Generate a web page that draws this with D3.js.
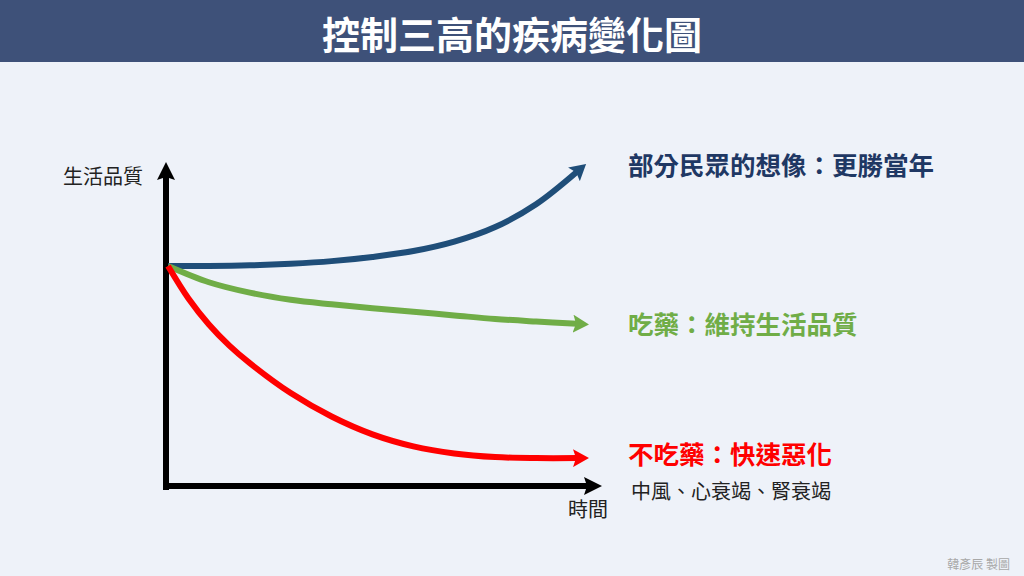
<!DOCTYPE html>
<html>
<head>
<meta charset="utf-8">
<script src="https://cdn.jsdelivr.net/npm/d3@7"></script>
<style>
  html, body { margin: 0; padding: 0; background: #eef2f9; }
  svg { display: block; font-family: 'Noto Sans CJK TC', 'Noto Sans', sans-serif; }
</style>
</head>
<body>
<div id="chartArea"></div>
<script>
// time steps (0 = now, 10 = far future)
const times = [0, 1, 2, 3, 4, 5, 6, 7, 8, 9, 10]
const timesFine = [0, 0.5, 1, 1.5, 2, 3, 4, 5, 6, 7, 8, 9, 10]

// quality of life, 0..100
const imagined = [68, 68, 68.2, 68.7, 69.5, 70.8, 72.6, 75.5, 80, 87, 97]
const withMeds = [68, 63, 59.8, 57.6, 56.2, 55, 53.9, 52.8, 51.7, 50.9, 50.2]
const noMeds = [68, 58, 50, 43.5, 38.1, 28.9, 21.7, 16.2, 12.5, 10.3, 9.2, 8.9, 8.9]

const seriesNames = ['部分民眾的想像：更勝當年', '吃藥：維持生活品質', '不吃藥：快速惡化']
const seriesColors = ['#1f4e79', '#70ad47', '#ff0000']
const labelColors = ['#1f3864', '#70ad47', '#ff0000']
const labelValues = [99.5, 50.5, 10.5]

const title = '控制三高的疾病變化圖'
const yLabel = '生活品質'
const xLabel = '時間'
const note = '中風、心衰竭、腎衰竭'
const credit = '韓彥辰 製圖'

const width = 1024
const height = 576

const svg = d3.select('#chartArea')
  .append('svg')
  .attr('width', width)
  .attr('height', height)

svg.append('rect')
  .attr('width', width)
  .attr('height', height)
  .attr('fill', '#eef2f9')

// header band
svg.append('rect')
  .attr('width', width)
  .attr('height', 62)
  .attr('fill', '#3e5179')

svg.append('text')
  .attr('x', width / 2)
  .attr('y', 32)
  .attr('text-anchor', 'middle')
  .attr('dominant-baseline', 'central')
  .attr('fill', '#fff')
  .attr('font-size', 38)
  .attr('font-weight', 'bold')
  .text(title)

const xScale = d3.scaleLinear().domain([0, 10]).range([168, 577])
const yScale = d3.scaleLinear().domain([0, 100]).range([487, 162])

// arrow markers
const defs = svg.append('defs')
const addMarker = (id, color, len, half, notch) => {
  defs.append('marker')
    .attr('id', id)
    .attr('markerUnits', 'userSpaceOnUse')
    .attr('viewBox', `${-len} ${-half} ${len + 2} ${half * 2}`)
    .attr('refX', -len + notch + 1)
    .attr('refY', 0)
    .attr('markerWidth', len + 2)
    .attr('markerHeight', half * 2)
    .attr('orient', 'auto')
    .append('path')
    .attr('d', `M0,0 L${-len},${-half} L${-len + notch},0 L${-len},${half} Z`)
    .attr('fill', color)
}
addMarker('ax', '#000', 18, 9, 3)
seriesColors.forEach((c, i) => addMarker('arr' + i, c, 16, 9, 3))

// axes
const plotG = svg.append('g')

plotG.append('line')
  .attr('x1', xScale(0) - 2)
  .attr('x2', xScale(0) - 2)
  .attr('y1', yScale(0) + 3)
  .attr('y2', yScale(100) + 14)
  .attr('stroke', '#000')
  .attr('stroke-width', 6)
  .attr('marker-end', 'url(#ax)')

plotG.append('line')
  .attr('x1', xScale(0) - 5)
  .attr('x2', 588)
  .attr('y1', yScale(0) - 1)
  .attr('y2', yScale(0) - 1)
  .attr('stroke', '#000')
  .attr('stroke-width', 6)
  .attr('marker-end', 'url(#ax)')

// curves
const series = [
  times.map((t, j) => [t, imagined[j]]),
  times.map((t, j) => [t, withMeds[j]]),
  timesFine.map((t, j) => [t, noMeds[j]])
]
const line = d3.line()
  .x(d => xScale(d[0]))
  .y(d => yScale(d[1]))
  .curve(d3.curveCatmullRom.alpha(0.5))

series.forEach((pts, i) => {
  plotG.append('path')
    .datum(pts)
    .attr('d', line)
    .attr('fill', 'none')
    .attr('stroke', seriesColors[i])
    .attr('stroke-width', 6)
    .attr('stroke-linecap', 'butt')
    .attr('marker-end', `url(#arr${i})`)
})

// series labels
seriesNames.forEach((name, i) => {
  svg.append('text')
    .attr('x', 628)
    .attr('y', yScale(labelValues[i]))
    .attr('dominant-baseline', 'central')
    .attr('font-size', 25.5)
    .attr('font-weight', 'bold')
    .attr('fill', labelColors[i])
    .text(name)
})

svg.append('text')
  .attr('x', 631)
  .attr('y', 490)
  .attr('dominant-baseline', 'central')
  .attr('font-size', 20)
  .attr('fill', '#222')
  .text(note)

// axis labels
svg.append('text')
  .attr('x', 63)
  .attr('y', 175)
  .attr('dominant-baseline', 'central')
  .attr('font-size', 20)
  .attr('fill', '#222')
  .text(yLabel)

svg.append('text')
  .attr('x', 568)
  .attr('y', 508)
  .attr('dominant-baseline', 'central')
  .attr('font-size', 20)
  .attr('fill', '#222')
  .text(xLabel)

// credit
svg.append('text')
  .attr('x', 1010)
  .attr('y', 563)
  .attr('text-anchor', 'end')
  .attr('dominant-baseline', 'central')
  .attr('font-size', 12)
  .attr('fill', '#a8a8a8')
  .text(credit)
</script>
</body>
</html>
